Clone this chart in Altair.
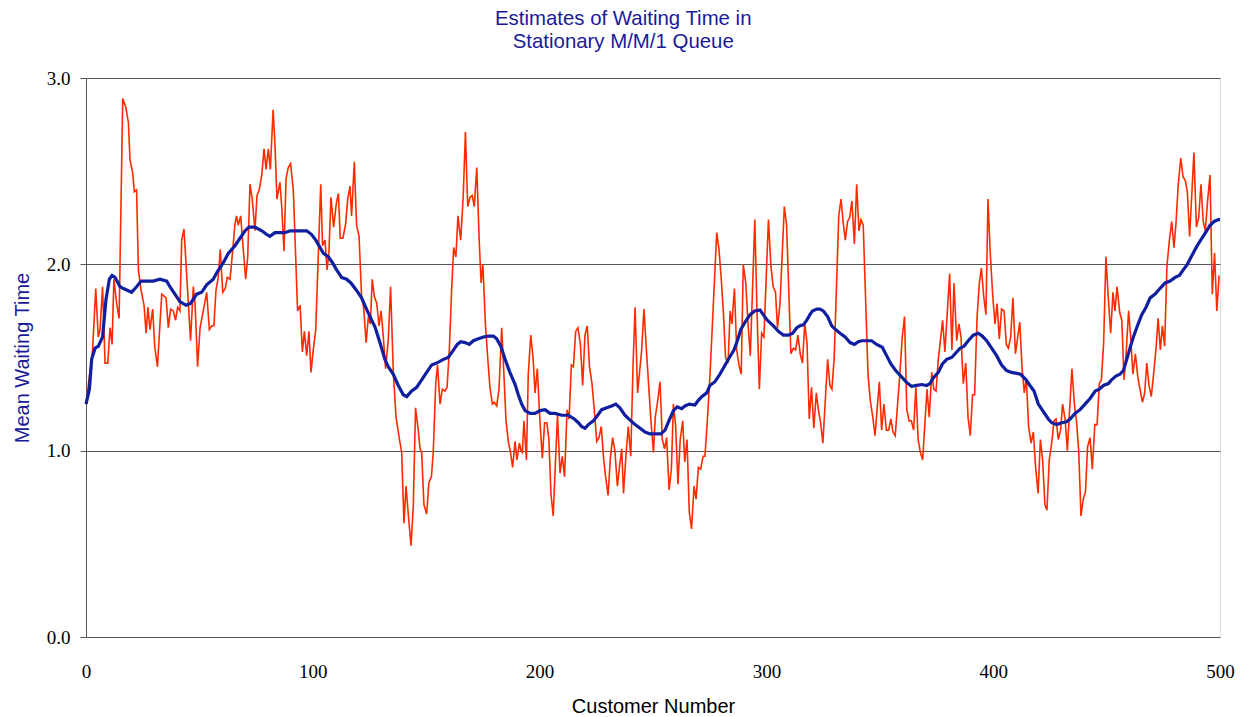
import altair as alt
import pandas as pd

# Red series: waiting time of each customer
red_x = [0, 2.9, 4.3, 5.4, 6.2, 7.3, 8.4, 9.6, 10.6, 11.5, 12.3, 13.5, 14.6, 16.2, 17.6, 18.7, 19.4, 20.6, 21.3, 22.3,
         23.1, 24.3, 25.6, 26.5, 27.3, 28.2, 29.4, 30.3, 31.5, 33.4, 35.3, 36.3, 37.3, 38.5, 39.5, 40.4, 41.4, 42.2, 43.2,
         46.1, 47.3, 48.1, 49.2, 50.3, 51.7, 53.2, 54.4, 55.4, 56.4, 57.3, 58.3, 59.2, 60.3, 61.4, 62.3, 63.5, 64.5, 65.7,
         66.4, 67.1, 68.2, 68.9, 70.4, 71.3, 72.3, 73.3, 74.5, 75.4, 76.4, 77.5, 78.5, 79.4, 80.4, 81.3, 82.5, 83.3, 84.2,
         85.5, 86.3, 87.3, 88.2, 89.2, 90.2, 91.4, 93.3, 94.4, 95.4, 96.3, 97.3, 98.3, 99.2, 100.2, 101.3, 103.5, 104.3,
         105.4, 106.3, 107.1, 108.0, 109.2, 110.4, 111.3, 112.1, 113.3, 114.5, 115.4, 116.4, 117.1, 118.3, 119.3, 120.4,
         121.5, 122.4, 123.5, 124.5, 125.4, 126.2, 127.1, 128.2, 129.2, 130.1, 131.1, 132.1, 133.3, 134.3, 135.5, 136.7,
         138.2, 139.2, 140.2, 141.1, 142.3, 143.3, 144.3, 145.3, 146.5, 147.3, 148.0, 149.0, 150.2, 151.2, 152.3, 153.1,
         154.2, 155.0, 156.1, 157.1, 158.2, 159.2, 160.2, 161.2, 162.1, 163.1, 164.0, 165.2, 166.3, 167.3, 168.3, 169.3,
         170.3, 171.2, 172.3, 173.3, 174.2, 175.0, 176.1, 177.0, 178.1, 179.2, 180.0, 181.1, 182.1, 183.3, 184.3, 185.2,
         186.2, 187.2, 188.1, 189.2, 190.0, 191.1, 191.8, 192.4, 193.1, 194.2, 195.0, 196.1, 197.1, 198.0, 199.0, 200.0,
         201.2, 202.2, 203.2, 204.1, 205.0, 206.0, 207.1, 207.9, 209.0, 210.0, 211.0, 212.1, 213.0, 214.0, 214.9, 215.9,
         216.9, 218.0, 219.0, 220.0, 221.0, 222.0, 223.1, 224.1, 225.2, 226.2, 227.2, 228.2, 229.1, 230.2, 231.2, 232.2,
         233.2, 234.3, 235.2, 236.2, 237.0, 238.1, 239.1, 240.2, 241.2, 242.1, 243.2, 244.3, 245.0, 246.0, 247.2, 248.2,
         249.1, 250.2, 251.0, 252.0, 253.1, 254.1, 255.1, 256.0, 257.1, 258.1, 259.0, 260.0, 261.0, 262.0, 263.1, 264.0,
         265.0, 266.0, 267.0, 268.1, 269.0, 270.0, 271.0, 272.1, 272.9, 273.9, 275.1, 276.2, 278.1, 279.1, 280.1, 281.0,
         282.0, 283.1, 284.0, 284.8, 285.9, 286.9, 287.9, 288.9, 289.8, 290.9, 291.9, 292.9, 294.9, 295.8, 296.9, 297.9,
         298.9, 300.9, 302.0, 303.0, 304.0, 304.9, 306.0, 307.9, 308.9, 310.8, 311.9, 312.9, 313.9, 314.9, 315.9, 316.9,
         317.9, 318.9, 319.9, 320.9, 322.0, 322.9, 323.9, 324.9, 327.0, 328.0, 328.9, 329.9, 331.9, 332.9, 333.9, 334.8,
         335.8, 336.7, 337.7, 338.8, 339.8, 340.8, 341.7, 342.7, 344.8, 345.8, 346.9, 347.9, 348.8, 349.8, 350.8, 351.8,
         352.9, 353.9, 354.9, 355.8, 356.8, 358.9, 359.9, 360.9, 361.9, 362.9, 363.9, 364.9, 365.9, 366.9, 367.9, 368.9,
         370.8, 371.8, 372.9, 373.8, 374.8, 375.8, 377.7, 378.7, 379.8, 380.8, 381.8, 382.7, 383.9, 384.9, 385.8, 386.8,
         387.9, 388.9, 389.9, 390.9, 391.8, 392.9, 393.9, 394.8, 395.8, 396.8, 397.7, 398.7, 399.8, 400.8, 401.7, 402.7,
         403.7, 404.8, 405.8, 406.7, 407.7, 408.7, 409.8, 410.8, 411.7, 412.7, 413.7, 414.6, 415.6, 416.7, 417.7, 418.7,
         419.8, 420.8, 421.8, 422.8, 423.7, 424.7, 425.8, 426.8, 427.7, 428.7, 429.7, 430.6, 431.7, 432.7, 433.7, 434.7,
         435.8, 436.8, 437.7, 438.7, 439.7, 440.7, 441.6, 442.7, 443.7, 444.8, 445.8, 446.8, 447.7, 448.7, 449.7, 450.8,
         451.8, 452.8, 453.7, 454.6, 455.8, 456.7, 457.7, 458.7, 459.7, 460.6, 461.6, 462.7, 463.7, 464.7, 465.8, 466.8,
         467.7, 468.7, 469.7, 470.8, 471.8, 472.7, 473.7, 474.6, 475.6, 476.6, 477.7, 478.7, 479.7, 480.6, 481.6, 482.7,
         483.7, 484.7, 485.6, 486.6, 487.5, 488.5, 489.6, 490.6, 491.6, 492.6, 493.5, 494.6, 495.6, 496.6, 497.6, 498.6,
         499.6]
red_y = [1.25, 1.54, 1.87, 1.61, 1.65, 1.88, 1.47, 1.47, 1.66, 1.57, 1.92, 1.79, 1.71, 2.89, 2.84, 2.76, 2.56, 2.49, 2.39, 2.40,
         1.97, 1.86, 1.78, 1.63, 1.77, 1.65, 1.76, 1.56, 1.45, 1.84, 1.82, 1.66, 1.76, 1.75, 1.70, 1.77, 1.75, 2.13, 2.19,
         1.59, 1.88, 1.79, 1.45, 1.66, 1.75, 1.85, 1.65, 1.67, 1.67, 1.86, 1.93, 2.08, 1.85, 1.87, 1.93, 1.92, 2.05, 2.22,
         2.26, 2.21, 2.26, 2.15, 1.92, 2.04, 2.43, 2.35, 2.18, 2.37, 2.40, 2.48, 2.62, 2.51, 2.62, 2.51, 2.83, 2.65, 2.35,
         2.44, 2.31, 2.07, 2.46, 2.52, 2.54, 2.40, 1.75, 1.78, 1.53, 1.64, 1.51, 1.64, 1.42, 1.54, 1.65, 2.43, 2.10,
         2.13, 1.97, 2.06, 2.36, 2.20, 2.33, 2.38, 2.14, 2.14, 2.22, 2.35, 2.42, 2.26, 2.55, 2.21, 2.15,
         1.83, 1.77, 1.58, 1.72, 1.68, 1.92, 1.83, 1.79, 1.67, 1.75, 1.61, 1.44, 1.60, 1.88, 1.42, 1.18,
         1.06, 0.99, 0.61, 0.81, 0.63, 0.49, 0.70, 1.23, 1.11, 1.01, 0.99, 0.71, 0.66, 0.83, 0.86, 0.99,
         1.36, 1.46, 1.25, 1.33, 1.32, 1.34, 1.54, 1.86, 2.09, 2.04, 2.26, 2.13, 2.36, 2.71, 2.31, 2.36,
         2.37, 2.31, 2.52, 2.15, 1.90, 2.00, 1.68, 1.52, 1.34, 1.25, 1.26, 1.24, 1.33, 1.66, 1.40, 1.16,
         1.05, 0.99, 0.91, 1.05, 0.95, 1.04, 1.00, 0.99, 1.16, 0.95, 1.41, 1.62, 1.50, 1.31, 1.44, 1.19,
         0.96, 1.15, 1.15, 1.06, 0.77, 0.65, 0.97, 1.19, 0.88, 0.97, 0.86, 1.22, 1.17, 1.46, 1.45, 1.64,
         1.66, 1.57, 1.35, 1.62, 1.67, 1.45, 1.36, 1.22, 1.05, 1.07, 1.13, 0.96, 0.86, 0.76, 0.96, 1.07,
         1.00, 0.81, 0.91, 1.01, 0.77, 0.98, 1.13, 0.97, 1.46, 1.77, 1.31, 1.45, 1.54, 1.76, 1.52, 1.33,
         1.16, 0.99, 1.18, 1.26, 1.37, 1.06, 1.01, 1.07, 0.79, 0.90, 1.25, 1.13, 0.82, 1.06, 1.16, 0.94,
         1.06, 0.67, 0.58, 0.81, 0.74, 0.91, 0.90, 0.97, 0.97, 1.15, 1.40, 1.68, 2.17, 2.08, 1.92, 1.75,
         1.50, 1.47, 1.75, 1.68, 1.87, 1.54, 1.46, 1.41, 2.00, 1.90, 1.68, 1.51, 2.24, 1.77, 1.33, 1.63,
         1.61, 2.24, 1.99, 1.88, 1.85, 1.66, 1.79, 2.31, 2.21, 1.52, 1.55, 1.54, 1.62, 1.52, 1.47, 1.68,
         1.58, 1.17, 1.34, 1.12, 1.31, 1.22, 1.15, 1.04, 1.49, 1.35, 1.33, 1.50, 2.26, 2.35, 2.22, 2.13,
         2.23, 2.25, 2.34, 2.11, 2.43, 2.18, 2.24, 2.21, 1.41, 1.27, 1.18, 1.08, 1.22, 1.37, 1.11, 1.25,
         1.11, 1.11, 1.17, 1.10, 1.08, 1.42, 1.61, 1.72, 1.22, 1.16, 1.16, 1.11, 1.34, 1.06, 0.99, 0.95,
         1.33, 1.18, 1.42, 1.33, 1.32, 1.49, 1.70, 1.53, 1.75, 1.95, 1.54, 1.90, 1.59, 1.68, 1.61, 1.36,
         1.47, 1.18, 1.08, 1.30, 1.30, 1.72, 1.90, 1.98, 1.83, 1.73, 2.35, 2.06, 1.83, 1.68, 1.79, 1.60,
         1.76, 1.75, 1.57, 1.55, 1.61, 1.82, 1.52, 1.61, 1.69, 1.45, 1.31, 1.39, 1.13, 1.04, 1.10, 0.91,
         0.77, 1.06, 0.95, 0.71, 0.68, 0.95, 1.04, 1.16, 1.17, 1.06, 1.11, 1.25, 1.17, 1.00, 1.22, 1.44,
         1.25, 1.15, 1.00, 0.65, 0.74, 0.78, 1.02, 1.07, 0.90, 1.14, 1.14, 1.36, 1.38, 1.58, 2.04, 1.81,
         1.63, 1.85, 1.75, 1.88, 1.74, 1.70, 1.38, 1.54, 1.75, 1.61, 1.41, 1.52, 1.40, 1.33, 1.26, 1.31,
         1.47, 1.35, 1.29, 1.42, 1.55, 1.71, 1.54, 1.67, 1.56, 1.99, 2.13, 2.23, 2.09, 2.22, 2.43, 2.57,
         2.47, 2.45, 2.39, 2.15, 2.36, 2.60, 2.20, 2.25, 2.43, 2.23, 2.18, 2.35, 2.48, 1.84, 2.06, 1.75,
         1.94]

# Blue series: running estimate
blue_x = [0, 1.5, 2.5, 4.0, 5.4, 7.3, 8.8, 10.3, 11.5, 12.8, 15.0, 16.5, 20.1, 22.3, 24.3, 27.5, 29.7, 32.6, 35.6, 37.0,
          39.2, 41.4, 44.1, 46.1, 48.8, 51.0, 53.2, 56.1, 57.9, 60.6, 62.8, 65.7, 67.9, 70.1, 71.9, 74.5, 77.5, 79.7, 81.1,
          83.3, 85.5, 87.7, 90.0, 92.2, 94.4, 97.3, 99.5, 101.3, 103.2, 104.6, 106.9, 108.6, 110.5, 112.7, 114.9, 116.8,
          119.3, 121.5, 123.3, 124.8, 127.4, 129.6, 131.8, 133.3, 135.5, 137.7, 139.9, 141.4, 143.6, 145.8, 148.0, 150.2,
          152.4, 154.6, 157.6, 159.7, 162.0, 163.7, 165.2, 167.1, 169.0, 170.8, 173.0, 175.2, 177.4, 179.6, 181.1, 182.9,
          184.8, 186.9, 189.2, 190.6, 192.1, 193.6, 195.8, 198.0, 200.2, 202.4, 204.6, 206.8, 209.7, 212.7, 215.3, 217.1,
          218.5, 220.0, 221.5, 223.7, 225.6, 227.4, 229.6, 231.8, 233.6, 235.4, 237.6, 239.8, 242.1, 244.3, 246.5, 248.7,
          251.6, 253.5, 255.3, 257.2, 259.0, 260.7, 262.6, 264.1, 266.0, 268.5, 270.0, 271.5, 273.7, 275.1, 277.3, 279.5,
          281.8, 283.7, 285.7, 287.2, 288.7, 290.6, 292.8, 294.8, 297.2, 298.6, 300.4, 303.1, 305.3, 307.5, 309.7, 311.6,
          313.4, 314.8, 316.3, 317.8, 319.2, 320.3, 322.2, 323.6, 325.1, 327.0, 328.8, 330.5, 332.5, 334.7, 336.9, 338.8,
          340.5, 342.0, 344.2, 346.4, 348.6, 351.1, 353.0, 354.9, 357.0, 359.3, 361.9, 364.0, 366.3, 368.5, 370.7, 372.1,
          373.6, 375.8, 377.6, 379.5, 381.7, 383.2, 385.4, 387.1, 389.0, 391.2, 393.4, 395.2, 397.1, 399.3, 401.5, 403.7,
          405.9, 408.1, 410.4, 412.1, 414.5, 416.2, 418.0, 419.9, 422.1, 424.3, 425.8, 428.0, 430.2, 432.4, 433.9, 436.1,
          438.3, 440.5, 442.7, 445.0, 446.8, 448.6, 450.8, 452.2, 454.1, 455.9, 457.4, 458.9, 460.3, 461.8, 463.6, 465.5,
          467.4, 469.2, 471.4, 473.5, 475.8, 478.0, 480.2, 482.1, 483.8, 485.6, 487.5, 489.7, 492.0, 493.9, 495.6, 497.4,
          499.3, 500]
blue_y = [1.25, 1.33, 1.49, 1.55, 1.56, 1.61, 1.81, 1.92, 1.94, 1.93, 1.88, 1.87, 1.85, 1.88, 1.91, 1.91, 1.91, 1.92, 1.91, 1.88,
          1.84, 1.80, 1.78, 1.79, 1.84, 1.85, 1.89, 1.92, 1.96, 2.01, 2.06, 2.10, 2.14, 2.18, 2.20, 2.20, 2.18, 2.16, 2.15,
          2.17, 2.17, 2.17, 2.18, 2.18, 2.18, 2.18, 2.16, 2.13, 2.09, 2.06, 2.04, 2.01, 1.97, 1.93, 1.92, 1.90,
          1.86, 1.82, 1.77, 1.73, 1.665, 1.58, 1.49, 1.45, 1.41, 1.35, 1.30, 1.29, 1.32, 1.34, 1.38, 1.42,
          1.46, 1.47, 1.49, 1.50, 1.54, 1.57, 1.585, 1.58, 1.57, 1.59, 1.60, 1.61, 1.615, 1.615, 1.60, 1.56,
          1.49, 1.42, 1.355, 1.30, 1.25, 1.215, 1.20, 1.20, 1.215, 1.22, 1.20, 1.20, 1.19, 1.19, 1.17, 1.15,
          1.13, 1.12, 1.14, 1.16, 1.19, 1.22, 1.23, 1.24, 1.25, 1.23, 1.19, 1.165, 1.14, 1.12, 1.10, 1.09,
          1.09, 1.09, 1.11, 1.165, 1.215, 1.235, 1.225, 1.24, 1.25, 1.245, 1.27, 1.29, 1.31, 1.35, 1.37, 1.41,
          1.46, 1.50, 1.54, 1.59, 1.65, 1.69, 1.73, 1.75, 1.755, 1.73, 1.70, 1.67, 1.64, 1.62, 1.62, 1.63,
          1.66, 1.67, 1.675, 1.70, 1.73, 1.75, 1.76, 1.76, 1.75, 1.72, 1.67, 1.65, 1.63, 1.61, 1.58, 1.57,
          1.585, 1.59, 1.59, 1.59, 1.57, 1.555, 1.51, 1.465, 1.43, 1.40, 1.365, 1.345, 1.35, 1.355, 1.35, 1.36,
          1.39, 1.42, 1.465, 1.49, 1.50, 1.52, 1.55, 1.56, 1.59, 1.62, 1.63, 1.615, 1.59, 1.55, 1.51, 1.46,
          1.43, 1.42, 1.415, 1.41, 1.38, 1.35, 1.32, 1.25, 1.21, 1.17, 1.15, 1.14, 1.15, 1.155, 1.17, 1.20,
          1.22, 1.25, 1.28, 1.32, 1.33, 1.35, 1.36, 1.38, 1.40, 1.41, 1.43, 1.49, 1.55, 1.61, 1.67, 1.73,
          1.77, 1.82, 1.84, 1.87, 1.90, 1.91, 1.93, 1.94, 1.97, 2.00, 2.045, 2.095, 2.14, 2.175, 2.21, 2.23,
          2.24, 2.24]

x_ticks = [0, 100, 200, 300, 400, 500]
y_ticks = [0.0, 1.0, 2.0, 3.0]
title_lines = ["Estimates of Waiting Time in", "Stationary M/M/1 Queue"]

red_df = pd.DataFrame({"customer": red_x, "wait": red_y})
blue_df = pd.DataFrame({"customer": blue_x, "wait": blue_y})

x_enc = alt.X("customer:Q",
              scale=alt.Scale(domain=[0, 500], nice=False, zero=False),
              axis=alt.Axis(values=x_ticks, title="Customer Number", grid=False, ticks=False, domain=False,
                            labelFlush=False,
                            labelFont="Liberation Serif", labelFontSize=19, labelColor="#000000",
                            labelPadding=25, titleFont="Liberation Sans", titleFontSize=20,
                            titleFontWeight="normal", titleColor="#000000", titlePadding=15))
y_enc = alt.Y("wait:Q",
              scale=alt.Scale(domain=[0, 3], nice=False),
              axis=alt.Axis(values=y_ticks, format=".1f", title="Mean Waiting Time", grid=True,
                            gridColor="#555555", gridWidth=1, gridOpacity=1,
                            domain=True, domainColor="#555555", domainWidth=1,
                            ticks=True, tickSize=6, tickColor="#555555",
                            labelFont="Liberation Serif", labelFontSize=19, labelColor="#000000",
                            labelPadding=10, titleFont="Liberation Sans", titleFontSize=20,
                            titleFontWeight="normal", titleColor="#1a1a99", titlePadding=14))

red = alt.Chart(red_df).mark_line(color="#ff2a00", strokeWidth=1.6).encode(x=x_enc, y=y_enc)
blue = alt.Chart(blue_df).mark_line(color="#0f1fa0", strokeWidth=3.2).encode(x=x_enc, y=y_enc)

chart = alt.layer(red, blue).properties(
    width=1134,
    height=559,
    title=alt.TitleParams(text=title_lines, font="Liberation Sans", fontSize=20.4, fontWeight="normal",
                          color="#1a1a99", lineHeight=23, anchor="middle", frame="bounds", offset=17),
    autosize=alt.AutoSizeParams(type="none"),
    padding={"left": 78, "top": 70, "right": 17, "bottom": 80},
).configure_view(stroke=None).configure(background="white")

chart.save("out.html", embed_options={"renderer": "svg", "actions": False})
